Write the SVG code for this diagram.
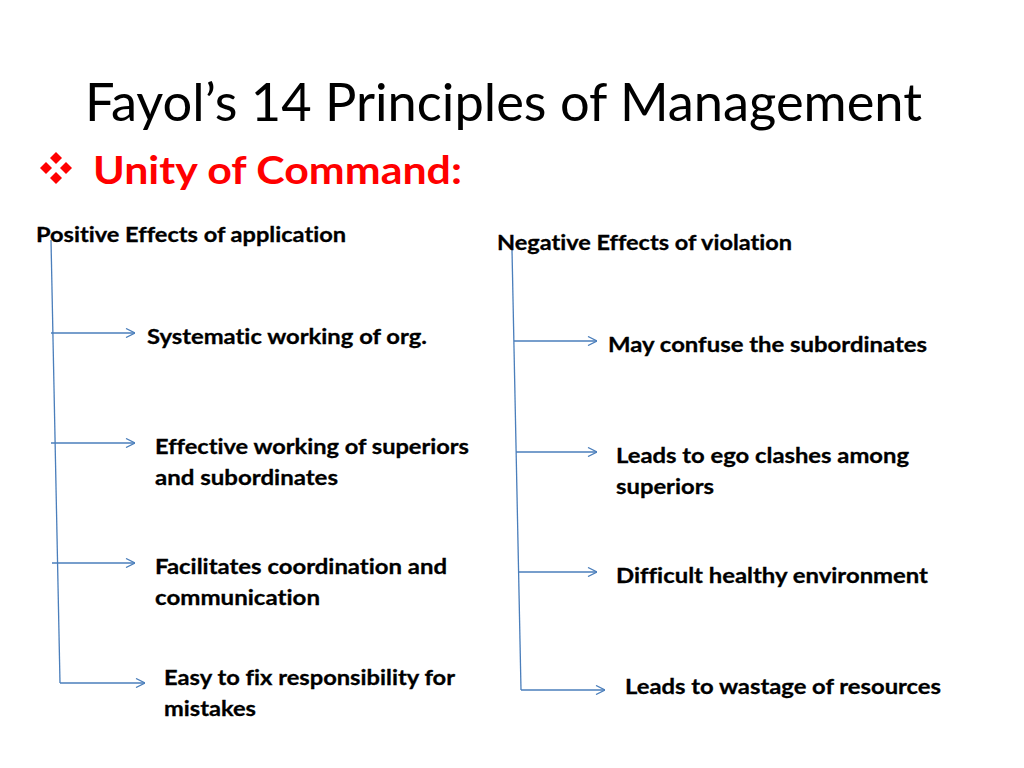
<svg xmlns="http://www.w3.org/2000/svg" width="1024" height="768" viewBox="0 0 1024 768">
<defs>
<style>
text{font-variant-ligatures:none}
.title{font-family:Lato,"Liberation Sans",sans-serif;font-size:52px;fill:#000}
.sub{font-family:Lato,"Liberation Sans",sans-serif;font-size:39px;font-weight:bold;fill:#ff0000}
.t{font-family:Lato,"Liberation Sans",sans-serif;font-size:21px;font-weight:bold;fill:#000;stroke:#000;stroke-width:0.3}
.ln{stroke:#4a7ebb;stroke-width:1.3;fill:none}
.ar{stroke:#4a7ebb;stroke-width:1.3;fill:none;marker-end:url(#ah)}
</style>
<marker id="ah" viewBox="0 0 10 10" refX="10" refY="5" markerWidth="10" markerHeight="10" markerUnits="userSpaceOnUse" orient="auto">
<path d="M1,0.5 L10,5 L1,9.5" fill="none" stroke="#4a7ebb" stroke-width="1.3"/>
</marker>
</defs>
<rect width="1024" height="768" fill="#fff"/>
<g id="title">
<text class="title" x="85" y="121" textLength="837" lengthAdjust="spacingAndGlyphs">Fayol’s 14 Principles of Management</text>
</g>
<g id="subtitle">
<g fill="#ff0000">
<polygon points="56,152 62,158 56,164 50,158"/>
<polygon points="56,172 62,178 56,184 50,178"/>
<polygon points="46,162 52,168 46,174 40,168"/>
<polygon points="66,162 72,168 66,174 60,168"/>
</g>
<text class="sub" x="93" y="184" textLength="369" lengthAdjust="spacingAndGlyphs">Unity of Command:</text>
</g>
<g id="connectors">
<line class="ln" x1="51" y1="240" x2="60" y2="683"/>
<line class="ar" x1="51" y1="333" x2="135" y2="333"/>
<line class="ar" x1="51" y1="443" x2="135" y2="443"/>
<line class="ar" x1="52" y1="563" x2="135" y2="563"/>
<line class="ar" x1="60" y1="683" x2="145" y2="683"/>
<line class="ln" x1="512" y1="250" x2="521" y2="690"/>
<line class="ar" x1="514" y1="341" x2="597" y2="341"/>
<line class="ar" x1="516" y1="452" x2="597" y2="452"/>
<line class="ar" x1="518" y1="572" x2="597" y2="572"/>
<line class="ar" x1="521" y1="690" x2="605" y2="690"/>
</g>
<g id="pos-head"><text class="t" x="36" y="242" textLength="310" lengthAdjust="spacingAndGlyphs">Positive Effects of application</text></g>
<g id="neg-head"><text class="t" x="497" y="250" textLength="295" lengthAdjust="spacingAndGlyphs">Negative Effects of violation</text></g>
<g id="pos1"><text class="t" x="147" y="344" textLength="280" lengthAdjust="spacingAndGlyphs">Systematic working of org.</text></g>
<g id="pos2"><text class="t" x="155" y="454" textLength="314" lengthAdjust="spacingAndGlyphs">Effective working of superiors</text><text class="t" x="155" y="485" textLength="183" lengthAdjust="spacingAndGlyphs">and subordinates</text></g>
<g id="pos3"><text class="t" x="155" y="574" textLength="292" lengthAdjust="spacingAndGlyphs">Facilitates coordination and</text><text class="t" x="155" y="605" textLength="165" lengthAdjust="spacingAndGlyphs">communication</text></g>
<g id="pos4"><text class="t" x="164" y="685" textLength="291" lengthAdjust="spacingAndGlyphs">Easy to fix responsibility for</text><text class="t" x="164" y="716" textLength="92" lengthAdjust="spacingAndGlyphs">mistakes</text></g>
<g id="neg1"><text class="t" x="608" y="352" textLength="319" lengthAdjust="spacingAndGlyphs">May confuse the subordinates</text></g>
<g id="neg2"><text class="t" x="616" y="463" textLength="293" lengthAdjust="spacingAndGlyphs">Leads to ego clashes among</text><text class="t" x="616" y="494" textLength="98" lengthAdjust="spacingAndGlyphs">superiors</text></g>
<g id="neg3"><text class="t" x="616" y="583" textLength="312" lengthAdjust="spacingAndGlyphs">Difficult healthy environment</text></g>
<g id="neg4"><text class="t" x="625" y="694" textLength="316" lengthAdjust="spacingAndGlyphs">Leads to wastage of resources</text></g>
</svg>
